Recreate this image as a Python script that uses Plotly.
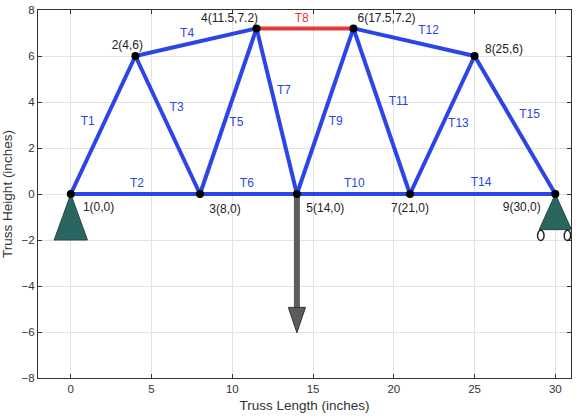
import plotly.graph_objects as go

node_x = [0, 4, 8, 11.5, 14, 17.5, 21, 25, 30]
node_y = [0, 6, 0, 7.2, 0, 7.2, 0, 6, 0]
members = [(1,2),(1,3),(2,3),(2,4),(3,4),(3,5),(4,5),(4,6),(5,6),(5,7),(6,7),(6,8),(7,8),(7,9),(8,9)]
member_names = ["T1","T2","T3","T4","T5","T6","T7","T8","T9","T10","T11","T12","T13","T14","T15"]
member_lx = [1.05,4.1,6.55,7.2,10.25,10.9,13.2,14.3,16.4,17.55,20.3,22.15,24,25.4,28.4]
member_ly = [3.14,0.44,3.74,6.94,3.09,0.44,4.49,7.6,3.14,0.44,3.99,7.09,3.04,0.49,3.44]
node_names = ["1(0,0)","2(4,6)","3(8,0)","4(11.5,7.2)","5(14,0)","6(17.5,7.2)","7(21,0)","8(25,6)","9(30,0)"]
node_lx = [1.72,3.5,9.55,9.83,15.76,19.55,21,26.82,27.92]
node_ly = [-0.6,6.45,-0.7,7.6,-0.65,7.6,-0.65,6.26,-0.6]
support_left_x = [0,-1.03,1.03,0]
support_left_y = [0,-2,-2,0]
support_right_x = [30,29,31,30]
support_right_y = [0,-1.55,-1.55,0]
wheel_x = [29.1,30.75]
wheel_y = [-1.8,-1.8]
load_x = [14,14]
load_y = [0,-5]
head_x = [13.47,14.53,14,13.47]
head_y = [-4.93,-4.93,-6.03,-4.93]
x_ticks = [0,5,10,15,20,25,30]
y_ticks = [-8,-6,-4,-2,0,2,4,6,8]

BLUE = "#2b45e6"
RED = "#e8383a"
TEAL = "#2a6562"
GRAY = "#5c5c5c"
FONT = "Liberation Sans"

fig = go.Figure()
for (a, b), name in zip(members, member_names):
    fig.add_trace(go.Scatter(x=[node_x[a-1], node_x[b-1]], y=[node_y[a-1], node_y[b-1]], mode="lines",
                             line=dict(color=RED if name == "T8" else BLUE, width=4), hoverinfo="skip"))
fig.add_trace(go.Scatter(x=load_x, y=load_y, mode="lines", line=dict(color=GRAY, width=6)))
fig.add_trace(go.Scatter(x=head_x, y=head_y, mode="lines", fill="toself", fillcolor=GRAY,
                         line=dict(color="#333333", width=1)))
for sx, sy in ((support_left_x, support_left_y), (support_right_x, support_right_y)):
    fig.add_trace(go.Scatter(x=sx, y=sy, mode="lines", fill="toself", fillcolor=TEAL,
                             line=dict(color="#1f4a48", width=1)))
for wx, wy in zip(wheel_x, wheel_y):
    fig.add_shape(type="circle", xref="x", yref="y", x0=wx - 0.2, x1=wx + 0.2, y0=wy - 0.22, y1=wy + 0.22,
                  line=dict(color="#222222", width=1.5), fillcolor="white")
fig.add_trace(go.Scatter(x=node_x, y=node_y, mode="markers", marker=dict(color="black", size=8)))
fig.add_trace(go.Scatter(x=member_lx, y=member_ly, mode="text", text=member_names,
                         textfont=dict(family=FONT, size=12,
                                       color=[RED if n == "T8" else BLUE for n in member_names])))
fig.add_trace(go.Scatter(x=node_lx, y=node_ly, mode="text", text=node_names,
                         textfont=dict(family=FONT, size=12, color="#222222")))

axis = dict(showgrid=True, gridcolor="#e2e2e2", gridwidth=1, zeroline=False, showline=True,
            linecolor="#333333", linewidth=1, mirror="ticks", ticks="inside", ticklen=4,
            automargin=False,
            tickcolor="#333333", tickfont=dict(family=FONT, size=11.5, color="#333333"))
fig.update_layout(
    width=579, height=419, autosize=False, showlegend=False,
    paper_bgcolor="white", plot_bgcolor="white",
    margin=dict(l=38, r=8, t=10, b=41),
    font=dict(family=FONT),
    xaxis=dict(axis, range=[-2.03, 30.97], tickvals=x_ticks,
               title=dict(text="Truss Length (inches)", font=dict(family=FONT, size=13.5, color="#333333"), standoff=6)),
    yaxis=dict(axis, range=[-8, 8], tickvals=y_ticks,
               title=dict(text="Truss Height (inches)", font=dict(family=FONT, size=13.5, color="#333333"), standoff=8)),
)
fig.write_html("out.html", config=dict(displayModeBar=False),
               post_script="document.body.style.margin='0';")
